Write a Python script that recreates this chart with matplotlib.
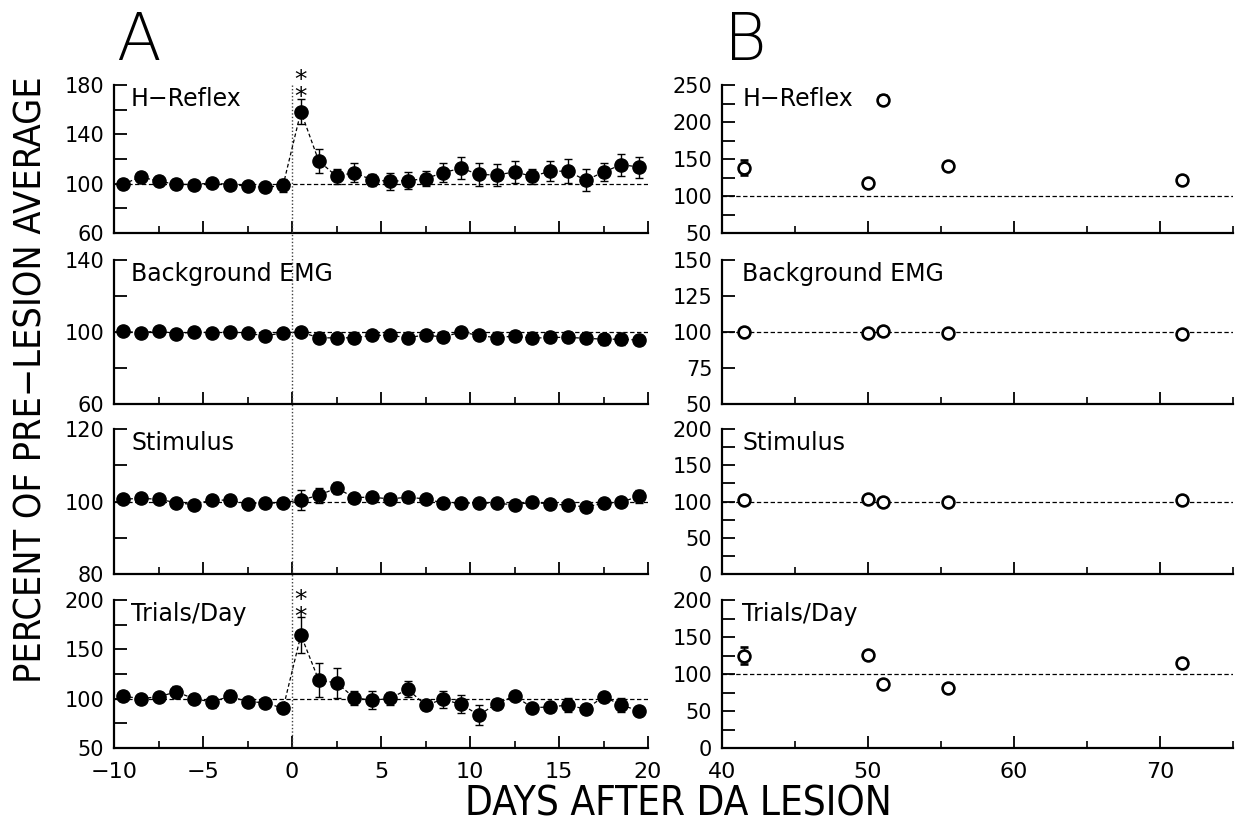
import matplotlib
matplotlib.use("Agg")
import matplotlib.pyplot as plt
from matplotlib.lines import Line2D
from matplotlib.transforms import blended_transform_factory

plt.rcParams['font.family'] = ['DejaVu Sans']

# ---------------- data ----------------
days_a = [-9.5, -8.5, -7.5, -6.5, -5.5, -4.5, -3.5, -2.5, -1.5, -0.5,
          0.5, 1.5, 2.5, 3.5, 4.5, 5.5, 6.5, 7.5, 8.5, 9.5,
          10.5, 11.5, 12.5, 13.5, 14.5, 15.5, 16.5, 17.5, 18.5, 19.5]

hreflex_a = [99.5, 105.5, 102, 99.5, 99.3, 100.6, 99.3, 98, 96.9, 98.6,
             158.5, 118.5, 106, 109, 103, 102, 102.5, 104, 109, 112.5,
             107.5, 107, 109.5, 106, 110, 110.2, 102.7, 109.4, 115.4, 113.5]
hreflex_a_err = [4, 4, 4, 4, 2, 2, 2, 2, 2, 5,
                 10.5, 9.5, 6, 8, 5, 7, 7, 6, 8, 9,
                 9, 9, 9, 6, 8, 10, 9, 7, 9, 8.5]

emg_a = [100.4, 99.6, 100.6, 99.1, 100, 99.6, 100, 99.4, 97.8, 99.6,
         100, 96.8, 96.7, 96.8, 98.1, 98.1, 96.9, 98.3, 97.2, 100,
         98.1, 96.8, 97.8, 96.5, 97, 97, 96.5, 96, 96, 95.5]
emg_a_err = [1, 1, 1, 1, 1, 1, 1, 1, 1, 1,
             1, 1.5, 1.5, 1.5, 1, 1, 1, 1, 1, 1,
             1, 3, 2.5, 2.5, 2.5, 2.5, 2.5, 3, 3, 3]

stim_a = [100.6, 100.9, 100.6, 99.7, 99.1, 100.5, 100.3, 99.4, 99.5, 99.7,
          100.4, 101.7, 103.7, 101.1, 101.2, 100.7, 101.2, 100.7, 99.6, 99.5,
          99.6, 99.5, 99.1, 99.8, 99.3, 99.0, 98.5, 99.5, 99.8, 101.5]
stim_a_err = [0.4, 0.4, 0.4, 0.4, 0.4, 0.4, 0.4, 0.4, 0.4, 0.4,
              2.8, 2.0, 1.7, 0.5, 0.5, 0.5, 1.0, 0.5, 0.4, 0.4,
              0.4, 0.4, 0.4, 0.4, 0.4, 0.5, 0.5, 0.5, 0.6, 1.8]

trials_a = [102.7, 100, 102, 106.8, 100, 96.6, 102.4, 97, 95.9, 90.2,
            164.5, 118.9, 116, 101, 98.3, 100.2, 109.5, 93.6, 99.2, 94.3,
            83.4, 95, 102.7, 91, 91.5, 93.6, 89.3, 102, 93.6, 87.5]
trials_a_err = [5, 2, 3, 6, 2, 6, 6, 3, 2, 2,
                18, 17, 15, 7, 9, 7, 8, 5, 9, 9,
                10, 3, 4, 3, 5, 7, 5, 4, 7, 3]

days_b = [41.5, 50, 51, 55.5, 71.5]
hreflex_b = [138, 118, 230, 140, 121]
hreflex_b_err = [10, 3, 6, 3, 4]
emg_b = [100, 99, 101, 99, 98.5]
emg_b_err = [1, 1, 1, 1, 1]
stim_b = [102, 103, 99, 99.5, 102.5]
stim_b_err = [2, 2, 2, 2, 2]
trials_b = [125, 126, 86, 81, 115]
trials_b_err = [11, 3, 3, 3, 3]

labels = ['H\u2212Reflex', 'Background EMG', 'Stimulus', 'Trials/Day']

ylims_a = [(60, 180), (60, 140), (80, 120), (50, 200)]
yticks_a = [[60, 100, 140, 180], [60, 100, 140], [80, 100, 120], [50, 100, 150, 200]]
yminor_a = [[80, 120, 160], [80, 120], [90, 110], [75, 125, 175]]

ylims_b = [(50, 250), (50, 150), (0, 200), (0, 200)]
yticks_b = [[50, 100, 150, 200, 250], [50, 75, 100, 125, 150],
            [0, 50, 100, 150, 200], [0, 50, 100, 150, 200]]
yminor_b = [[75, 125, 175, 225], [], [25, 75, 125, 175], [25, 75, 125, 175]]

xticks_a = [-10, -5, 0, 5, 10, 15, 20]
xminor_a = [-7.5, -2.5, 2.5, 7.5, 12.5, 17.5]
xticks_b = [40, 50, 60, 70]
xminor_b = [45, 55, 65, 75]

series_a = [(hreflex_a, hreflex_a_err), (emg_a, emg_a_err),
            (stim_a, stim_a_err), (trials_a, trials_a_err)]
series_b = [(hreflex_b, hreflex_b_err), (emg_b, emg_b_err),
            (stim_b, stim_b_err), (trials_b, trials_b_err)]

# ---------------- layout ----------------
W, H = 1243, 831
fig = plt.figure(figsize=(W / 100, H / 100), dpi=100)

row_px = [(85, 233), (260, 404), (429, 574), (600, 748)]
ax_a_px = (114, 648)
ax_b_px = (722, 1233)

TICK_FS = 15
LABEL_FS = 17


def style(ax, xt, xm, yt, ym, ylim, xlim, bottom):
    for s in ['top', 'right']:
        ax.spines[s].set_visible(False)
    for s in ['left', 'bottom']:
        ax.spines[s].set_linewidth(1.6)
    ax.set_xlim(*xlim)
    ax.set_ylim(*ylim)
    ax.set_xticks(xt)
    ax.set_xticks(xm, minor=True)
    ax.set_yticks(yt)
    ax.set_yticks(ym, minor=True)
    ax.tick_params(axis='y', which='both', direction='in', length=9, width=1.3,
                   labelsize=TICK_FS, pad=7)
    ax.tick_params(axis='x', which='major', direction='in', length=9, width=1.3,
                   labelsize=TICK_FS + 1, pad=10, labelbottom=bottom)
    ax.tick_params(axis='x', which='minor', direction='in', length=5, width=1.2)


axes_a = []
for i, (top, bot) in enumerate(row_px):
    rect_a = [ax_a_px[0] / W, 1 - bot / H, (ax_a_px[1] - ax_a_px[0]) / W, (bot - top) / H]
    rect_b = [ax_b_px[0] / W, 1 - bot / H, (ax_b_px[1] - ax_b_px[0]) / W, (bot - top) / H]
    axa = fig.add_axes(rect_a)
    axb = fig.add_axes(rect_b)
    axes_a.append(axa)
    last = (i == 3)
    style(axa, xticks_a, xminor_a, yticks_a[i], yminor_a[i], ylims_a[i], (-10, 20), last)
    style(axb, xticks_b, xminor_b, yticks_b[i], yminor_b[i], ylims_b[i], (40, 75), last)

    # reference line at 100 %
    for ax in (axa, axb):
        ax.axhline(100, color='black', lw=0.9, ls=(0, (3.5, 2)), zorder=1)

    ya, ea = series_a[i]
    axa.plot(days_a, ya, color='black', lw=0.9, ls=(0, (3, 2)), zorder=2)
    axa.errorbar(days_a, ya, yerr=ea, fmt='o', ms=9.5, color='black',
                 ecolor='black', elinewidth=1.0, capsize=3.2, capthick=1.0, zorder=3)

    yb, eb = series_b[i]
    axb.errorbar(days_b, yb, yerr=eb, fmt='o', ms=8.5, mfc='white', mec='black',
                 mew=1.9, ecolor='black', elinewidth=1.0, capsize=3.2, capthick=1.0,
                 zorder=3)

    axa.text(0.032, 0.985, labels[i], transform=axa.transAxes, ha='left', va='top',
             fontsize=LABEL_FS)
    axb.text(0.04, 0.985, labels[i], transform=axb.transAxes, ha='left', va='top',
             fontsize=LABEL_FS)

# significance asterisks (two stacked)
for ax, yy in ((axes_a[0], 177), (axes_a[3], 191.5)):
    ax.text(0.5, yy, '*\n*', ha='center', va='center', fontsize=18,
            linespacing=0.62, clip_on=False)

# vertical dotted line at lesion day across panel A
tr = blended_transform_factory(axes_a[0].transData, fig.transFigure)
fig.add_artist(Line2D([0, 0], [1 - 85 / H, 1 - 748 / H], transform=tr,
                      color='0.25', lw=1.0, ls=(0, (1, 1.5))))

# panel letters and axis titles
fig.text(116 / W, 1 - 10 / H, 'A', fontsize=47, ha='left', va='top', fontweight='light')
fig.text(724 / W, 1 - 10 / H, 'B', fontsize=47, ha='left', va='top', fontweight='light')
fig.text(32 / W, 1 - 380 / H, 'PERCENT OF PRE\u2212LESION AVERAGE', rotation=90,
         ha='center', va='center', fontsize=27, fontstretch='condensed')
fig.text(678 / W, 1 - 804 / H, 'DAYS AFTER DA LESION', ha='center', va='center',
         fontsize=29, fontstretch='condensed')

fig.savefig('out.png', dpi=100)
